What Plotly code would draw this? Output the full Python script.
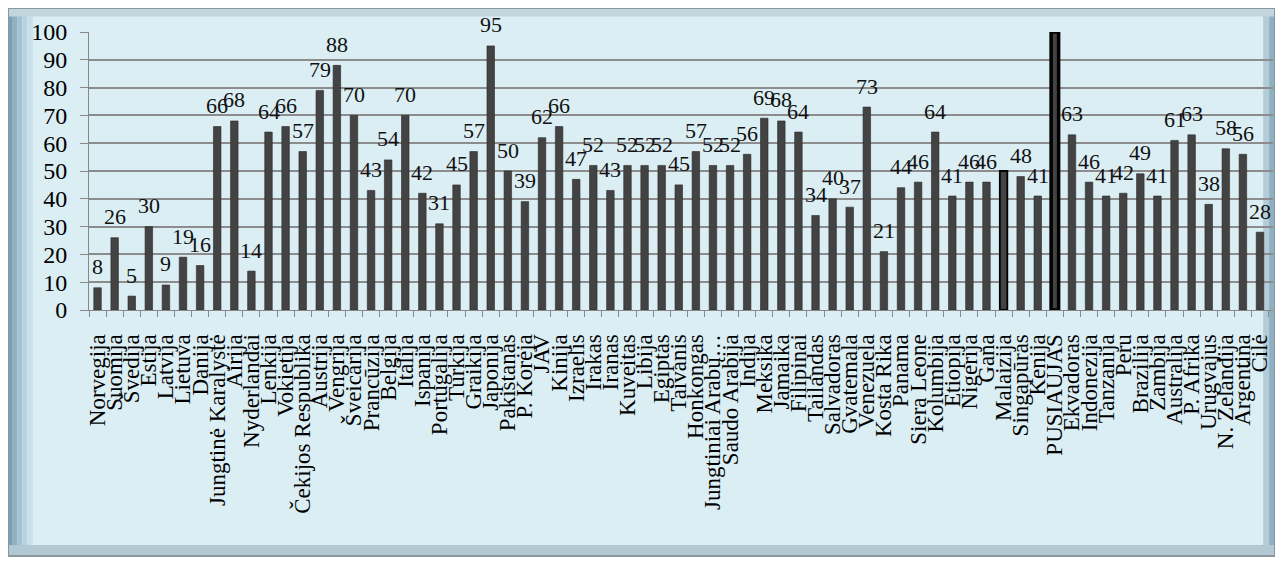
import plotly.graph_objects as go

categories = [
    "Norvegija", "Suomija", "Švedija", "Estija", "Latvija", "Lietuva", "Danija",
    "Jungtinė Karalystė", "Airija", "Nyderlandai", "Lenkija", "Vokietija",
    "Čekijos Respublika", "Austrija", "Vengrija", "Šveicarija", "Prancūzija",
    "Belgija", "Italija", "Ispanija", "Portugalija", "Turkija", "Graikija",
    "Japonija", "Pakistanas", "P. Korėja", "JAV", "Kinija", "Izraelis", "Irakas",
    "Iranas", "Kuveitas", "Libija", "Egiptas", "Taivanis", "Honkongas",
    "Jungtiniai Arabų…", "Saudo Arabija", "Indija", "Meksika", "Jamaika",
    "Filipinai", "Tailandas", "Salvadoras", "Gvatemala", "Venezuela",
    "Kosta Rika", "Panama", "Siera Leone", "Kolumbija", "Etiopija", "Nigerija",
    "Gana", "Malaizija", "Singapūras", "Kenija", "PUSIAUJAS", "Ekvadoras",
    "Indonezija", "Tanzanija", "Peru", "Brazilija", "Zambija", "Australija",
    "P. Afrika", "Urugvajus", "N. Zelandija", "Argentina", "Čilė",
]

values = [
    8, 26, 5, 30, 9, 19, 16,
    66, 68, 14, 64, 66,
    57, 79, 88, 70, 43,
    54, 70, 42, 31, 45, 57,
    95, 50, 39, 62, 66, 47, 52,
    43, 52, 52, 52, 45, 57,
    52, 52, 56, 69, 68,
    64, 34, 40, 37, 73,
    21, 44, 46, 64, 41, 46,
    46, 50, 48, 41, 100, 63,
    46, 41, 42, 49, 41, 61,
    63, 38, 58, 56, 28,
]

# categories whose bars carry no value label
unlabelled = ["Malaizija", "PUSIAUJAS"]
# categories drawn with an outline
outlined_thin = ["Malaizija"]
outlined_thick = ["PUSIAUJAS"]

y_ticks = [0, 10, 20, 30, 40, 50, 60, 70, 80, 90, 100]

FONT = "Liberation Serif"

line_w = [3.5 if c in outlined_thick else (1.8 if c in outlined_thin else 0.6) for c in categories]
line_c = ["#000000" if c in outlined_thick + outlined_thin else "#2a2a2a" for c in categories]

fig = go.Figure()
fig.add_trace(go.Bar(
    x=categories, y=values,
    marker=dict(color="#434343", line=dict(color=line_c, width=line_w)),
    width=0.44,
    hoverinfo="x+y",
))

for c, v in zip(categories, values):
    if c in unlabelled:
        continue
    fig.add_annotation(
        x=c, y=v, text=str(v), showarrow=False,
        yanchor="middle", yshift=21,
        font=dict(family=FONT, size=22, color="#111111"),
    )

# outer frame (in paper coordinates, extending into the margins)
FX0, FX1, FY0, FY1 = -0.0684, 1.0017, -0.885, 1.086
fig.add_shape(type="rect", xref="paper", yref="paper",
              x0=FX0, x1=FX1, y0=FY0, y1=FY1,
              line=dict(width=0), fillcolor="#dbeef4", layer="below")
# edge shading of the frame
edge_strips = [
    (FX0, FX0 + 0.004, "#7a9fb5"), (FX0 + 0.004, FX0 + 0.008, "#8fb1c4"),
    (FX0 + 0.008, FX0 + 0.012, "#a4c2d2"), (FX0 + 0.012, FX0 + 0.016, "#b8d3df"),
    (FX0 + 0.016, FX0 + 0.021, "#c9e0ea"),
    (FX1 - 0.010, FX1 - 0.005, "#b4ccd8"), (FX1 - 0.005, FX1, "#8fb0c2"),
]
for x0, x1, col in edge_strips:
    fig.add_shape(type="rect", xref="paper", yref="paper",
                  x0=x0, x1=x1, y0=FY0, y1=FY1,
                  line=dict(width=0), fillcolor=col, layer="below")
fig.add_shape(type="rect", xref="paper", yref="paper",
              x0=FX0, x1=FX1, y0=FY0, y1=FY0 + 0.04,
              line=dict(width=0), fillcolor="#b2c8d2", layer="below")
fig.add_shape(type="rect", xref="paper", yref="paper",
              x0=FX0, x1=FX1, y0=FY1 - 0.03, y1=FY1,
              line=dict(width=0), fillcolor="#c3d6de", layer="below")
fig.add_shape(type="rect", xref="paper", yref="paper",
              x0=FX0, x1=FX1, y0=FY0, y1=FY1,
              line=dict(color="#8c979d", width=2), fillcolor="rgba(0,0,0,0)", layer="below")

fig.update_layout(
    width=1275, height=558,
    margin=dict(l=81, r=10, t=24, b=256),
    paper_bgcolor="#ffffff",
    plot_bgcolor="#b6dde8",
    showlegend=False,
    bargap=0.56,
    font=dict(family=FONT, color="#000000"),
)
fig.update_xaxes(
    type="category",
    tickmode="array", tickvals=categories, ticktext=categories,
    tickangle=-90,
    tickfont=dict(family=FONT, size=23, color="#000000"),
    ticks="outside", tickson="boundaries", ticklen=6, tickcolor="#888888",
    ticklabelstandoff=14,
    showline=True, linecolor="#888888", linewidth=1,
    showgrid=False,
    automargin=False,
)
fig.update_yaxes(
    range=[0, 100],
    tickvals=y_ticks,
    tickfont=dict(family=FONT, size=24, color="#000000"),
    ticks="outside", ticklen=8, tickcolor="#888888",
    ticklabelstandoff=8,
    showgrid=True, gridcolor="#8c8c8c", gridwidth=1.5,
    showline=True, linecolor="#888888", linewidth=1,
    zeroline=False,
    automargin=False,
)

fig.write_html("out.html")
